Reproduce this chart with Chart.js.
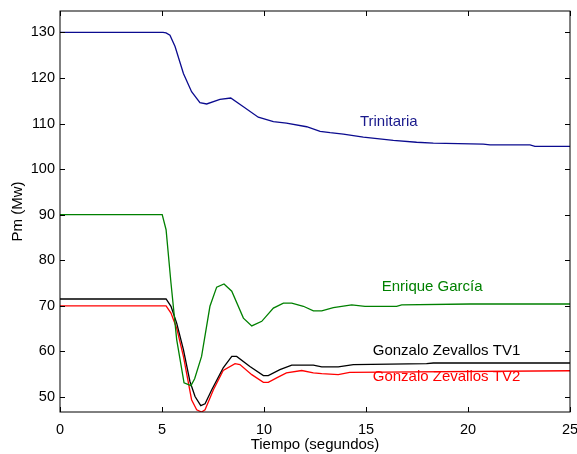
<!DOCTYPE html>
<html>
<head>
<meta charset="utf-8">
<script src="https://cdn.jsdelivr.net/npm/chart.js@4.4.0/dist/chart.umd.min.js"></script>
<style>
  html, body { margin: 0; padding: 0; background: #fff; }
  #wrap { width: 577px; height: 454px; }
</style>
</head>
<body>
<div id="wrap"><canvas id="chart" width="577" height="454"></canvas></div>
<script>
// tiempo (s) y potencia (MW) de cada unidad
const tTrin = [0, 5.05, 5.2, 5.39, 5.64, 6.05, 6.45, 6.86, 7.19, 7.84, 8.37, 8.99, 9.72, 10.46, 11.1, 12.09, 12.75, 13.24, 13.89, 14.87, 16.34, 17.48, 18.3, 20.75, 21.08, 23.04, 23.28, 25];
const pTrin = [130, 130, 129.9, 129.4, 126.9, 121.0, 117.0, 114.6, 114.3, 115.3, 115.6, 113.7, 111.4, 110.4, 110.1, 109.3, 108.3, 108.0, 107.7, 107.0, 106.3, 105.9, 105.7, 105.5, 105.3, 105.3, 105.0, 105.0];

const tEnr = [0, 5.01, 5.2, 5.44, 5.72, 6.08, 6.42, 6.6, 6.94, 7.35, 7.68, 8.04, 8.42, 8.99, 9.4, 9.89, 10.46, 10.95, 11.36, 11.93, 12.42, 12.83, 13.4, 14.3, 14.95, 16.5, 16.75, 20.1, 25];
const pEnr = [90, 90, 86.7, 75.0, 62.6, 53.1, 52.5, 54.0, 58.9, 69.9, 74.1, 74.8, 73.2, 67.3, 65.6, 66.6, 69.5, 70.6, 70.6, 69.9, 68.9, 68.9, 69.6, 70.2, 69.9, 69.9, 70.2, 70.4, 70.4];

const tTV1 = [0, 5.2, 5.44, 5.72, 6.05, 6.37, 6.62, 6.9, 7.11, 7.44, 8.0, 8.42, 8.66, 9.31, 9.97, 10.21, 10.78, 11.36, 12.42, 12.83, 13.64, 14.38, 17.97, 18.3, 25];
const pTV1 = [71.5, 71.5, 69.9, 66.2, 60.4, 53.4, 50.1, 48.1, 48.5, 51.6, 56.4, 58.9, 58.9, 56.7, 54.7, 54.7, 56.0, 57.0, 57.0, 56.6, 56.6, 57.1, 57.3, 57.45, 57.45];

const tTV2 = [0, 5.2, 5.44, 5.72, 6.05, 6.45, 6.7, 6.94, 7.11, 7.52, 8.0, 8.58, 8.82, 9.4, 9.97, 10.21, 10.62, 11.1, 11.85, 12.42, 12.83, 13.64, 14.2, 25];
const pTV2 = [70, 70, 68.4, 65.1, 58.9, 49.4, 47.2, 46.7, 47.2, 51.6, 55.8, 57.3, 57.1, 54.9, 53.2, 53.2, 54.2, 55.3, 55.8, 55.3, 55.1, 54.9, 55.4, 55.75];

const xTicks = [0, 5, 10, 15, 20, 25];
const yTicks = [50, 60, 70, 80, 90, 100, 110, 120, 130];

// etiquetas de texto en coordenadas de datos
const labels = [
  { text: "Trinitaria", x: 14.7, y: 110.4, color: "#1a1a8c" },
  { text: "Enrique García", x: 15.77, y: 74.25, color: "#008000" },
  { text: "Gonzalo Zevallos TV1", x: 15.33, y: 60.2, color: "#000000" },
  { text: "Gonzalo Zevallos TV2", x: 15.33, y: 54.4, color: "#ff0000" },
];

const FONT = "Liberation Sans, Arial, sans-serif";

function pts(t, p) {
  return t.map((v, i) => ({ x: v, y: p[i] }));
}

function serie(t, p, color) {
  return {
    data: pts(t, p),
    borderColor: color,
    borderWidth: 1.3,
    pointRadius: 0,
    tension: 0,
    fill: false,
  };
}

const framePlugin = {
  id: "frame",
  afterDraw(chart) {
    const ctx = chart.ctx;
    const a = chart.chartArea;
    const xs = chart.scales.x, ys = chart.scales.y;
    ctx.save();
    ctx.strokeStyle = "#000";
    ctx.lineWidth = 1;
    ctx.strokeRect(a.left, a.top, a.right - a.left, a.bottom - a.top);
    ctx.beginPath();
    xTicks.forEach(v => {
      const px = Math.round(xs.getPixelForValue(v)) + 0.5;
      ctx.moveTo(px, a.bottom); ctx.lineTo(px, a.bottom - 5);
      ctx.moveTo(px, a.top); ctx.lineTo(px, a.top + 5);
    });
    yTicks.forEach(v => {
      const py = Math.round(ys.getPixelForValue(v)) + 0.5;
      ctx.moveTo(a.left, py); ctx.lineTo(a.left + 5, py);
      ctx.moveTo(a.right, py); ctx.lineTo(a.right - 5, py);
    });
    ctx.stroke();

    ctx.font = "15px " + FONT;
    ctx.textBaseline = "middle";
    ctx.textAlign = "left";
    labels.forEach(l => {
      ctx.fillStyle = l.color;
      ctx.fillText(l.text, xs.getPixelForValue(l.x), ys.getPixelForValue(l.y));
    });
    ctx.restore();
  }
};

new Chart(document.getElementById("chart"), {
  type: "line",
  data: {
    datasets: [
      serie(tTrin, pTrin, "#0b0b8f"),
      serie(tEnr, pEnr, "#008000"),
      serie(tTV1, pTV1, "#000000"),
      serie(tTV2, pTV2, "#ff0000"),
    ]
  },
  options: {
    responsive: false,
    animation: false,
    layout: { padding: { top: 11, right: 7, left: 0, bottom: 0 } },
    plugins: { legend: { display: false }, tooltip: { enabled: false } },
    scales: {
      x: {
        type: "linear",
        min: 0, max: 25,
        grid: { display: false, drawTicks: false },
        border: { display: false },
        afterBuildTicks: s => { s.ticks = xTicks.map(v => ({ value: v })); },
        afterFit: s => { s.height = 42; s.paddingLeft = 0; s.paddingRight = 0; },
        ticks: { color: "#000", font: { family: FONT, size: 14.5 }, padding: 9, maxRotation: 0, autoSkip: false },
        title: { display: true, text: "Tiempo (segundos)", color: "#000", font: { family: FONT, size: 15 }, padding: 0 },
      },
      y: {
        min: 46.7, max: 134.7,
        grid: { display: false, drawTicks: false },
        border: { display: false },
        afterBuildTicks: s => { s.ticks = yTicks.map(v => ({ value: v })); },
        afterFit: s => { s.width = 60; s.paddingTop = 0; s.paddingBottom = 0; },
        ticks: { color: "#000", font: { family: FONT, size: 14.5 }, padding: 5, autoSkip: false },
        title: { display: true, text: "Pm (Mw)", color: "#000", font: { family: FONT, size: 15 }, padding: { top: 9, bottom: 0 } },
      }
    }
  },
  plugins: [framePlugin]
});
</script>
</body>
</html>
